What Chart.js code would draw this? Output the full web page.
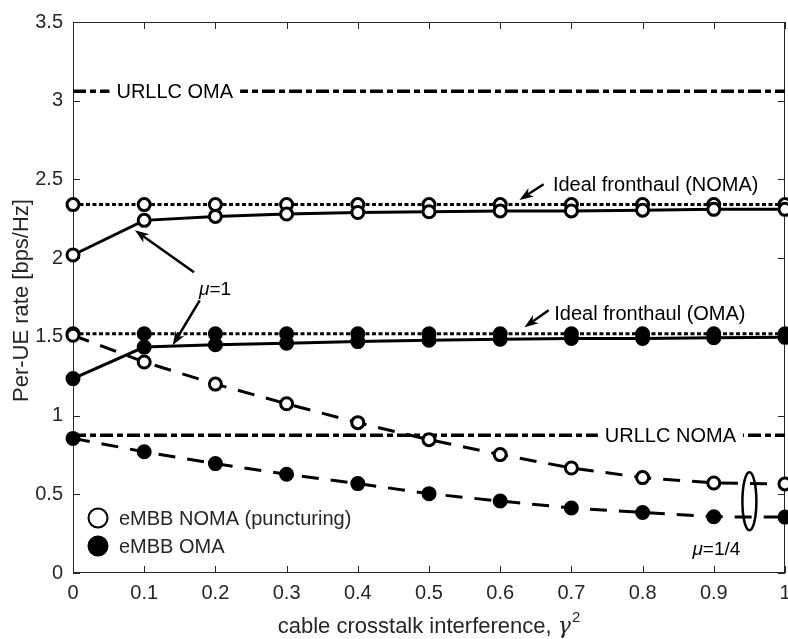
<!DOCTYPE html>
<html>
<head>
<meta charset="utf-8">
<script src="https://cdn.jsdelivr.net/npm/chart.js@4.4.1/dist/chart.umd.min.js"></script>
<style>
  html, body { margin: 0; padding: 0; background: #fff; }
</style>
</head>
<body>
<canvas id="chart" width="788" height="639"></canvas>
<script>
// ------------------------------------------------------------
// data
// ------------------------------------------------------------
const gamma2 = [0, 0.1, 0.2, 0.3, 0.4, 0.5, 0.6, 0.7, 0.8, 0.9, 1];

const idealNoma = [2.34, 2.34, 2.34, 2.34, 2.34, 2.34, 2.34, 2.34, 2.34, 2.34, 2.34];
const nomaMu1   = [2.02, 2.24, 2.265, 2.28, 2.29, 2.295, 2.30, 2.30, 2.305, 2.31, 2.31];
const idealOma  = [1.52, 1.52, 1.52, 1.52, 1.52, 1.52, 1.52, 1.52, 1.52, 1.52, 1.52];
const omaMu1    = [1.235, 1.435, 1.45, 1.46, 1.47, 1.478, 1.485, 1.49, 1.49, 1.495, 1.497];
const nomaPunct = [1.51, 1.34, 1.20, 1.075, 0.955, 0.847, 0.752, 0.667, 0.606, 0.572, 0.566];
const omaMu14   = [0.855, 0.77, 0.695, 0.627, 0.568, 0.504, 0.457, 0.413, 0.384, 0.357, 0.355];

const urllcX    = [0, 1];
const urllcOma  = [3.06, 3.06];
const urllcNoma = [0.875, 0.875];

const yTicks = [0, 0.5, 1, 1.5, 2, 2.5, 3, 3.5];
const xTicks = [0, 0.1, 0.2, 0.3, 0.4, 0.5, 0.6, 0.7, 0.8, 0.9, 1];

const SANS = '"Liberation Sans", Arial, Helvetica, sans-serif';
const AXIS_COLOR = '#262626';

// ------------------------------------------------------------
// dataset helpers
// ------------------------------------------------------------
function pts(xs, ys) {
  return xs.map((x, i) => ({ x, y: ys[i] }));
}

function series(ys, style, order) {
  return Object.assign({
    data: pts(gamma2, ys),
    borderColor: '#000',
    borderWidth: 3,
    fill: false,
    tension: 0,
    clip: false,
    order,
  }, style);
}

const openMarker   = { pointRadius: 6, pointBorderWidth: 3, pointBackgroundColor: '#fff', pointBorderColor: '#000', pointHoverRadius: 6 };
const filledMarker = { pointRadius: 6.5, pointBorderWidth: 2, pointBackgroundColor: '#000', pointBorderColor: '#000', pointHoverRadius: 6.5 };

const dotted  = [4, 2.5];
const dashed  = [17, 12];
const dashDot = [13, 4, 6, 4];

const datasets = [
  { data: pts(urllcX, urllcOma),  borderColor: '#000', borderWidth: 3.5, borderDash: dashDot, pointRadius: 0, clip: false, order: 9 },
  { data: pts(urllcX, urllcNoma), borderColor: '#000', borderWidth: 3.5, borderDash: dashDot, pointRadius: 0, clip: false, order: 8 },
  series(idealNoma, Object.assign({ borderDash: dotted }, openMarker), 7),
  series(nomaMu1,   Object.assign({}, openMarker), 6),
  series(idealOma,  Object.assign({ borderDash: dotted }, filledMarker), 5),
  series(omaMu1,    Object.assign({}, filledMarker), 4),
  series(omaMu14,   Object.assign({ borderDash: dashed }, filledMarker), 3),
  series(nomaPunct, Object.assign({ borderDash: dashed }, openMarker), 2),
];

// ------------------------------------------------------------
// drawing helpers
// ------------------------------------------------------------
function arrow(ctx, x1, y1, x2, y2) {
  const ang = Math.atan2(y2 - y1, x2 - x1);
  const len = 14, half = 5;
  const bx = x2 - Math.cos(ang) * len, by = y2 - Math.sin(ang) * len;
  ctx.beginPath();
  ctx.moveTo(x1, y1);
  ctx.lineTo(x2 - Math.cos(ang) * 8, y2 - Math.sin(ang) * 8);
  ctx.lineWidth = 2.5;
  ctx.stroke();
  ctx.beginPath();
  ctx.moveTo(x2, y2);
  ctx.lineTo(bx - Math.sin(ang) * half, by + Math.cos(ang) * half);
  ctx.lineTo(x2 - Math.cos(ang) * 10, y2 - Math.sin(ang) * 10);
  ctx.lineTo(bx + Math.sin(ang) * half, by - Math.cos(ang) * half);
  ctx.closePath();
  ctx.fill();
}

function muLabel(ctx, rest, x, y) {
  ctx.textBaseline = 'middle';
  ctx.textAlign = 'left';
  ctx.font = 'italic 19px ' + SANS;
  ctx.fillText('\u03bc', x, y);
  const w = ctx.measureText('\u03bc').width;
  ctx.font = '19px ' + SANS;
  ctx.fillText(rest, x + w, y);
}

// axes box + inward ticks, drawn under the data (MATLAB layer bottom)
const axesBox = {
  id: 'axesBox',
  beforeDatasetsDraw(chart) {
    const { ctx, chartArea: a, scales: { x, y } } = chart;
    ctx.save();
    ctx.strokeStyle = AXIS_COLOR;
    ctx.lineWidth = 1;
    ctx.strokeRect(a.left + 0.5, a.top + 0.5, a.right - a.left - 1, a.bottom - a.top - 1);
    ctx.beginPath();
    xTicks.forEach(v => {
      const p = Math.round(x.getPixelForValue(v)) + 0.5;
      ctx.moveTo(p, a.bottom); ctx.lineTo(p, a.bottom - 7);
      ctx.moveTo(p, a.top);    ctx.lineTo(p, a.top + 7);
    });
    yTicks.forEach(v => {
      const p = Math.round(y.getPixelForValue(v)) + 0.5;
      ctx.moveTo(a.left, p);  ctx.lineTo(a.left + 7, p);
      ctx.moveTo(a.right, p); ctx.lineTo(a.right - 7, p);
    });
    ctx.stroke();
    ctx.restore();
  },
};

// labels, arrows, ellipse, legend, axis titles
const decorations = {
  id: 'decorations',
  afterDatasetsDraw(chart) {
    const { ctx, chartArea: a, scales: { x, y } } = chart;
    const px = v => x.getPixelForValue(v);
    const py = v => y.getPixelForValue(v);
    ctx.save();
    ctx.fillStyle = '#000';
    ctx.strokeStyle = '#000';

    // text sitting on the URLLC lines (white box breaks the line)
    ctx.font = '20px ' + SANS;
    ctx.textBaseline = 'middle';
    ctx.textAlign = 'left';
    [['URLLC OMA', 0.061, urllcOma[0]], ['URLLC NOMA', 0.747, urllcNoma[0]]].forEach(([t, xv, yv]) => {
      const w = ctx.measureText(t).width;
      ctx.fillStyle = '#fff';
      ctx.fillRect(px(xv) - 7, py(yv) - 8, w + 14, 16);
      ctx.fillStyle = '#000';
      ctx.fillText(t, px(xv), py(yv) + 1);
    });

    // ideal fronthaul labels
    ctx.fillText('Ideal fronthaul (NOMA)', px(0.674), py(2.46));
    arrow(ctx, px(0.661), py(2.469), px(0.627), py(2.37));
    ctx.fillText('Ideal fronthaul (OMA)', px(0.676), py(1.64));
    arrow(ctx, px(0.668), py(1.669), px(0.634), py(1.561));

    // mu = 1
    muLabel(ctx, '=1', px(0.177), py(1.80));
    arrow(ctx, px(0.170), py(1.910), px(0.087), py(2.177));
    arrow(ctx, px(0.178), py(1.732), px(0.140), py(1.446));

    // mu = 1/4 with ellipse
    ctx.beginPath();
    ctx.ellipse(px(0.95), py(0.455), 7, 29, 0, 0, Math.PI * 2);
    ctx.lineWidth = 2.5;
    ctx.stroke();
    muLabel(ctx, '=1/4', px(0.87), py(0.146));

    // legend
    ctx.beginPath();
    ctx.arc(98, 518, 9.5, 0, Math.PI * 2);
    ctx.fillStyle = '#fff';
    ctx.fill();
    ctx.lineWidth = 2;
    ctx.stroke();
    ctx.beginPath();
    ctx.arc(98, 546, 10.5, 0, Math.PI * 2);
    ctx.fillStyle = '#000';
    ctx.fill();
    ctx.font = '20px ' + SANS;
    ctx.fillStyle = AXIS_COLOR;
    ctx.fillText('eMBB NOMA (puncturing)', 119, 519);
    ctx.fillText('eMBB OMA', 119, 547);

    // axis titles
    ctx.fillStyle = AXIS_COLOR;
    ctx.textBaseline = 'alphabetic';
    const main = 'cable crosstalk interference, ';
    ctx.font = '22px ' + SANS;
    const wMain = ctx.measureText(main).width;
    ctx.font = 'italic 22px "DejaVu Serif", serif';
    const wG = ctx.measureText('\u03b3').width;
    ctx.font = '15px ' + SANS;
    const wS = ctx.measureText('2').width;
    let tx = (a.left + a.right) / 2 - (wMain + wG + wS + 1) / 2;
    ctx.textAlign = 'left';
    ctx.font = '22px ' + SANS;
    ctx.fillText(main, tx, 633);
    ctx.font = 'italic 22px "DejaVu Serif", serif';
    ctx.fillText('\u03b3', tx + wMain, 633);
    ctx.font = '15px ' + SANS;
    ctx.fillText('2', tx + wMain + wG + 1, 622);

    ctx.translate(22, (a.top + a.bottom) / 2 + 3);
    ctx.rotate(-Math.PI / 2);
    ctx.textAlign = 'center';
    ctx.textBaseline = 'middle';
    ctx.font = '22px ' + SANS;
    ctx.fillText('Per-UE rate [bps/Hz]', 0, 0);
    ctx.restore();
  },
};

// ------------------------------------------------------------
// chart
// ------------------------------------------------------------
const fmt = v => String(Number(v.toFixed(2)));

new Chart(document.getElementById('chart'), {
  type: 'line',
  data: { datasets },
  options: {
    responsive: false,
    animation: false,
    events: [],
    layout: { autoPadding: false, padding: { top: 22, right: 3, left: 0, bottom: 0 } },
    plugins: { legend: { display: false }, tooltip: { enabled: false } },
    scales: {
      x: {
        type: 'linear',
        min: 0, max: 1,
        grid: { display: false, drawTicks: false },
        border: { display: false },
        ticks: {
          stepSize: 0.1,
          padding: 8,
          color: AXIS_COLOR,
          font: { family: SANS, size: 20 },
          callback: fmt,
          maxRotation: 0,
        },
        afterFit: s => { s.height = 66; s.paddingLeft = 0; s.paddingRight = 0; },
      },
      y: {
        type: 'linear',
        min: 0, max: 3.5,
        grid: { display: false, drawTicks: false },
        border: { display: false },
        ticks: {
          stepSize: 0.5,
          padding: 10,
          color: AXIS_COLOR,
          font: { family: SANS, size: 20 },
          callback: fmt,
        },
        afterFit: s => { s.width = 73; s.paddingTop = 0; s.paddingBottom = 0; },
      },
    },
  },
  plugins: [axesBox, decorations],
});
</script>
</body>
</html>
